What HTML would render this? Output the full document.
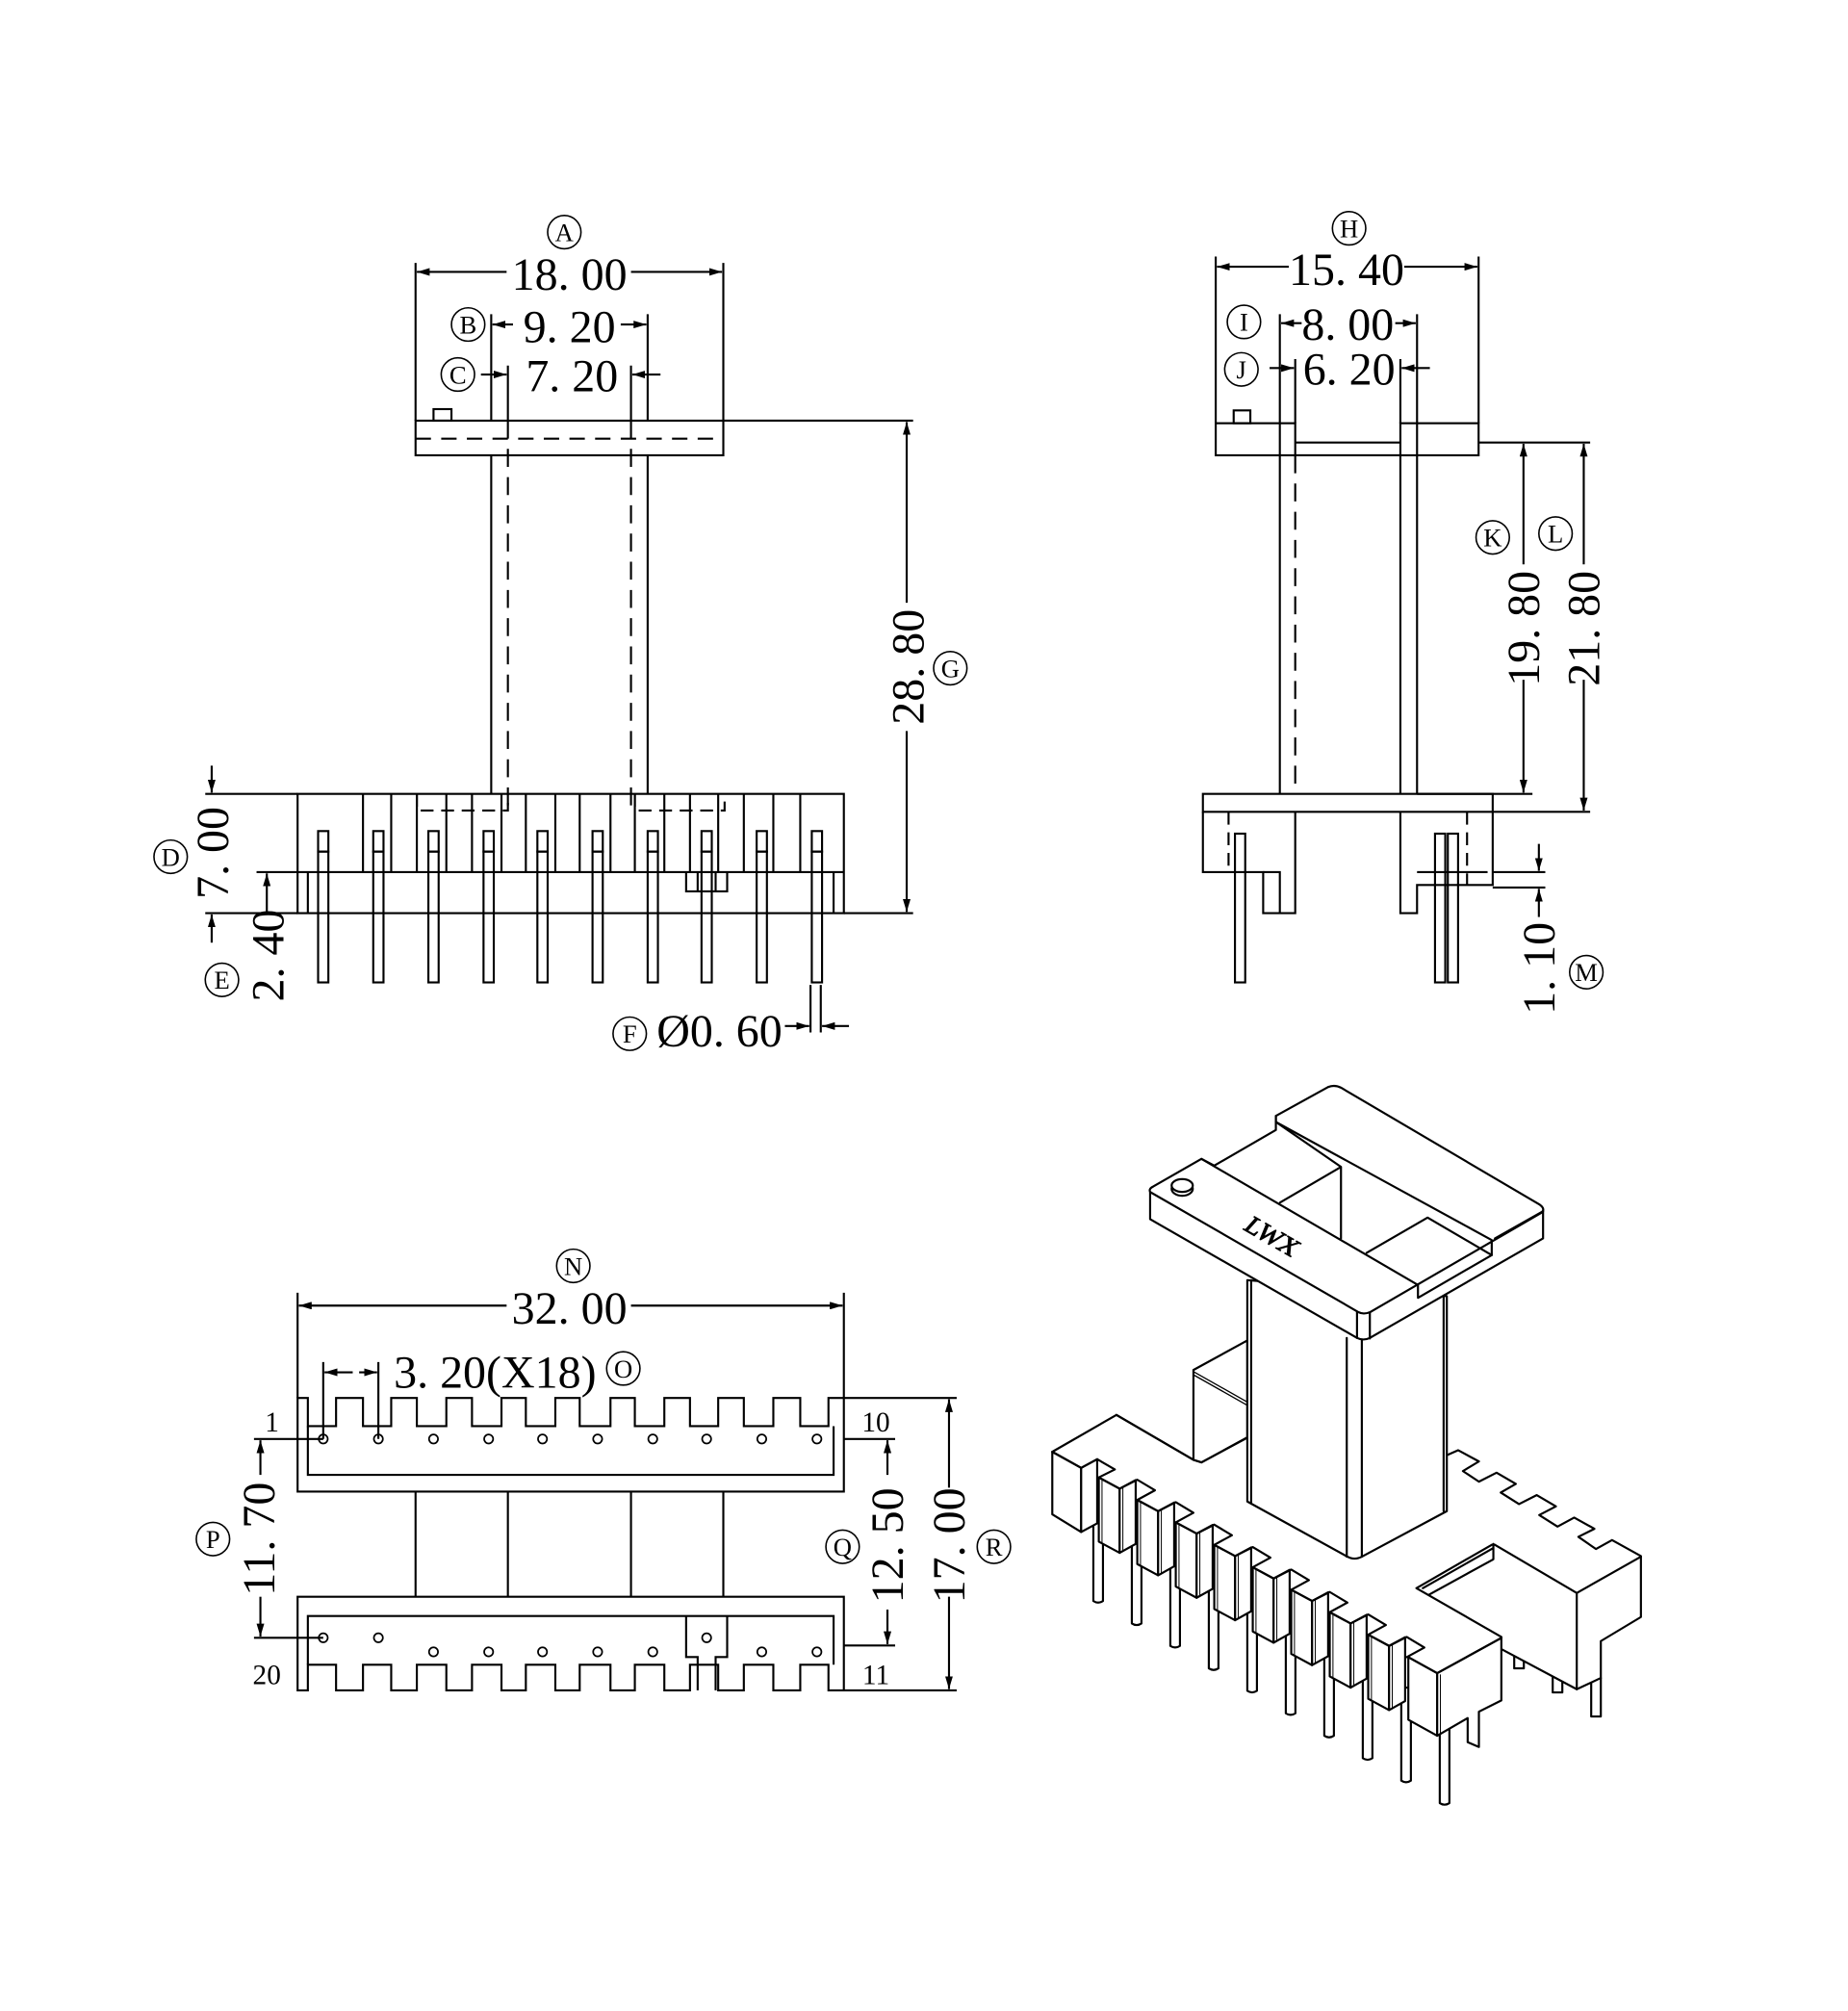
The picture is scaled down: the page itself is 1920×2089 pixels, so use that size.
<!DOCTYPE html>
<html><head><meta charset="utf-8"><style>
html,body{margin:0;padding:0;background:#fff}
svg{display:block}
text{font-family:"Liberation Serif",serif;fill:#000}
.t{font-size:36px}
.c{font-size:20px}
</style></head><body>
<svg width="1920" height="2089" viewBox="0 0 1441 1568" xmlns="http://www.w3.org/2000/svg">
<defs>
<marker id="a" viewBox="0 0 10 6" refX="10" refY="3" markerWidth="10" markerHeight="6" orient="auto-start-reverse" markerUnits="userSpaceOnUse"><path d="M0,0L10,3L0,6z" fill="#000"/></marker>
</defs>
<g fill="none" stroke="#000" stroke-width="1.6">
<!-- FRONT VIEW -->
<rect x="324" y="328" width="240" height="27"/>
<rect x="338" y="319" width="14" height="9"/>
<line x1="324" y1="342" x2="564" y2="342" stroke-dasharray="12,8"/>
<line x1="383" y1="355" x2="383" y2="619"/><line x1="505" y1="355" x2="505" y2="619"/>
<line x1="396" y1="328" x2="396" y2="630" stroke-dasharray="14,8"/><line x1="492" y1="328" x2="492" y2="630" stroke-dasharray="14,8"/>
<rect x="232" y="619" width="426" height="93"/>
<line x1="232" y1="680" x2="658" y2="680"/>
<path d="M283,619V680M305,619V680M325,619V680M348,619V680M368,619V680M391,619V680M410,619V680M433,619V680M452,619V680M476,619V680M495,619V680M518,619V680M538,619V680M560,619V680M580,619V680M603,619V680M624,619V680"/>
<path d="M325,619V632H396V619M495,619V632H565V619" stroke-dasharray="10,6"/>
<path d="M535,680V695H567V680M544,680V695M558,680V695"/>
<line x1="240" y1="680" x2="240" y2="712"/><line x1="650" y1="680" x2="650" y2="712"/>
<g id="pin"><rect x="248" y="648" width="8" height="16"/><rect x="248" y="664" width="8" height="102"/></g>
<use href="#pin" x="43"/><use href="#pin" x="86"/><use href="#pin" x="129"/><use href="#pin" x="171"/><use href="#pin" x="214"/><use href="#pin" x="257"/><use href="#pin" x="299"/><use href="#pin" x="342"/><use href="#pin" x="385"/>
<path d="M324,205V328M564,205V328M383,245V328M505,245V328M396,285V328M492,285V328"/>
<line x1="395" y1="212" x2="325" y2="212" marker-end="url(#a)"/><line x1="492" y1="212" x2="563" y2="212" marker-end="url(#a)"/>
<line x1="400" y1="253" x2="384" y2="253" marker-end="url(#a)"/><line x1="484" y1="253" x2="504" y2="253" marker-end="url(#a)"/>
<line x1="375" y1="292" x2="395" y2="292" marker-end="url(#a)"/><line x1="515" y1="292" x2="493" y2="292" marker-end="url(#a)"/>
<path d="M564,328H712M658,712H712"/>
<line x1="707" y1="470" x2="707" y2="329" marker-end="url(#a)"/><line x1="707" y1="570" x2="707" y2="711" marker-end="url(#a)"/>
<path d="M160,619H232M160,712H232M200,680H232"/>
<line x1="165" y1="597" x2="165" y2="618" marker-end="url(#a)"/><line x1="165" y1="735" x2="165" y2="713" marker-end="url(#a)"/>
<line x1="208" y1="712" x2="208" y2="681" marker-end="url(#a)"/>
<path d="M632,768V805M640,768V805"/>
<line x1="612" y1="800" x2="631" y2="800" marker-end="url(#a)"/><line x1="662" y1="800" x2="641" y2="800" marker-end="url(#a)"/>

<!-- SIDE VIEW -->
<rect x="948" y="330" width="62" height="25"/><rect x="1092" y="330" width="61" height="25"/>
<rect x="962" y="320" width="13" height="10"/>
<path d="M1010,345H1092M1010,355H1092"/>
<line x1="998" y1="330" x2="998" y2="619"/><line x1="1105" y1="330" x2="1105" y2="619"/>
<line x1="1010" y1="355" x2="1010" y2="619" stroke-dasharray="14,8"/><line x1="1092" y1="355" x2="1092" y2="619"/>
<rect x="938" y="619" width="226" height="14"/>
<path d="M938,633V680H985V712H1010V633M1092,633V712H1105V690H1164V633"/>
<path d="M958,633V680M1144,633V690" stroke-dasharray="10,6"/>
<path d="M985,680H998V712M1105,680H1160"/>
<rect x="963" y="650" width="8" height="116"/><rect x="1119" y="650" width="8" height="116"/><rect x="1129" y="650" width="8" height="116"/>
<path d="M948,200V330M1153,200V330M998,245V330M1105,245V330M1010,280V330M1092,280V330"/>
<line x1="1005" y1="208" x2="949" y2="208" marker-end="url(#a)"/><line x1="1095" y1="208" x2="1152" y2="208" marker-end="url(#a)"/>
<line x1="1015" y1="252" x2="999" y2="252" marker-end="url(#a)"/><line x1="1088" y1="252" x2="1104" y2="252" marker-end="url(#a)"/>
<line x1="990" y1="287" x2="1009" y2="287" marker-end="url(#a)"/><line x1="1115" y1="287" x2="1093" y2="287" marker-end="url(#a)"/>
<path d="M1153,345H1240M1105,619H1195M1164,633H1240"/>
<line x1="1188" y1="440" x2="1188" y2="346" marker-end="url(#a)"/><line x1="1188" y1="530" x2="1188" y2="618" marker-end="url(#a)"/>
<line x1="1235" y1="440" x2="1235" y2="346" marker-end="url(#a)"/><line x1="1235" y1="530" x2="1235" y2="632" marker-end="url(#a)"/>
<path d="M1164,680H1205M1164,692H1205"/>
<line x1="1200" y1="658" x2="1200" y2="679" marker-end="url(#a)"/><line x1="1200" y1="715" x2="1200" y2="693" marker-end="url(#a)"/>

<!-- BOTTOM VIEW -->
<path d="M232,1090H240V1112H262V1090H283V1112H305V1090H325V1112H348V1090H368V1112H391V1090H410V1112H433V1090H452V1112H476V1090H495V1112H518V1090H538V1112H560V1090H580V1112H603V1090H624V1112H646V1090H658V1163H232Z"/>
<path d="M240,1112V1150H650V1112"/>
<path d="M232,1318H240V1298H262V1318H283V1298H305V1318H325V1298H348V1318H368V1298H391V1318H410V1298H433V1318H452V1298H476V1318H495V1298H518V1318H538V1298H560V1318H580V1298H603V1318H624V1298H646V1318H658V1245H232Z"/>
<path d="M240,1298V1260H650V1298M535,1260V1292H544V1318M567,1260V1292H558V1318"/>
<path d="M324,1163V1245M396,1163V1245M492,1163V1245M564,1163V1245"/>
<g stroke-width="1.3">
<circle cx="252" cy="1122" r="3.5"/><circle cx="295" cy="1122" r="3.5"/><circle cx="338" cy="1122" r="3.5"/><circle cx="381" cy="1122" r="3.5"/><circle cx="423" cy="1122" r="3.5"/><circle cx="466" cy="1122" r="3.5"/><circle cx="509" cy="1122" r="3.5"/><circle cx="551" cy="1122" r="3.5"/><circle cx="594" cy="1122" r="3.5"/><circle cx="637" cy="1122" r="3.5"/>
<circle cx="252" cy="1277" r="3.5"/><circle cx="295" cy="1277" r="3.5"/><circle cx="338" cy="1288" r="3.5"/><circle cx="381" cy="1288" r="3.5"/><circle cx="423" cy="1288" r="3.5"/><circle cx="466" cy="1288" r="3.5"/><circle cx="509" cy="1288" r="3.5"/><circle cx="551" cy="1277" r="3.5"/><circle cx="594" cy="1288" r="3.5"/><circle cx="637" cy="1288" r="3.5"/>
</g>
<path d="M232,1008V1090M658,1008V1090M252,1062V1122M295,1062V1122"/>
<line x1="395" y1="1018" x2="233" y2="1018" marker-end="url(#a)"/><line x1="492" y1="1018" x2="657" y2="1018" marker-end="url(#a)"/>
<line x1="275" y1="1070" x2="253" y2="1070" marker-end="url(#a)"/><line x1="280" y1="1070" x2="294" y2="1070" marker-end="url(#a)"/>
<path d="M198,1122H252M198,1277H252M658,1122H698M658,1283H698M658,1090H746M658,1318H746"/>
<line x1="203" y1="1150" x2="203" y2="1123" marker-end="url(#a)"/><line x1="203" y1="1245" x2="203" y2="1276" marker-end="url(#a)"/>
<line x1="692" y1="1150" x2="692" y2="1123" marker-end="url(#a)"/><line x1="692" y1="1255" x2="692" y2="1282" marker-end="url(#a)"/>
<line x1="740" y1="1160" x2="740" y2="1091" marker-end="url(#a)"/><line x1="740" y1="1245" x2="740" y2="1317" marker-end="url(#a)"/>
</g>

<!-- ISOMETRIC -->
<g transform="scale(0.7505)" stroke="#000" stroke-width="6.5" stroke-linejoin="round" stroke-linecap="round" fill="#fff">
 <!-- zoom A: left base, pins, blocks -->
 <g transform="translate(1060,1400) scale(0.3333)">
  <path d="M100,325L300,210L540,350L565,358L710,280V480L1020,650L1235,745L1500,905L1210,965L300,440Z" stroke="none"/>
  <path d="M100,325L300,210L540,350L565,358L710,280" fill="none"/>
  <g id="ipin"><path d="M228,500V790Q243,800 258,790V500Z"/></g>
  <use href="#ipin" x="120" y="70"/><use href="#ipin" x="240" y="140"/><use href="#ipin" x="360" y="210"/><use href="#ipin" x="480" y="280"/><use href="#ipin" x="600" y="350"/><use href="#ipin" x="720" y="420"/><use href="#ipin" x="840" y="490"/><use href="#ipin" x="960" y="560"/><use href="#ipin" x="1080" y="630"/>
  <path d="M100,325L190,375V575L100,520Z"/>
  <path d="M190,375L240,348V548L190,575Z"/>
  <path d="M100,325L190,375L240,348L295,380L245,405" fill="none"/>
  <g id="blk">
   <path d="M245,405L310,440V640L245,605Z"/>
   <path d="M310,440L360,413V612L310,640Z"/>
   <path d="M245,405L310,440L365,412L420,445L365,475" fill="none"/>
   <path d="M255,410V610M320,437V636" fill="none" stroke-width="3"/>
  </g>
  <use href="#blk" x="120" y="70"/><use href="#blk" x="240" y="140"/><use href="#blk" x="360" y="210"/><use href="#blk" x="480" y="280"/><use href="#blk" x="600" y="350"/><use href="#blk" x="720" y="420"/><use href="#blk" x="840" y="490"/>
 </g>
 <!-- zoom C: right base -->
 <g transform="translate(1400,1450) scale(0.3333)">
  <path d="M520,790V850H550V800Z M640,860V925H670V870Z M760,880V1000H790V880Z"/>
  <path d="M300,190L345,170L410,205L360,235L410,268L465,240L525,275L478,302L535,338L590,310L650,345L598,372L655,408L707,380L770,415L720,440L775,478L825,450L915,500V690L790,765V880L715,915L480,790V752L215,600L455,462L715,615L300,400Z" stroke="none"/>
  <path d="M300,190L345,170L410,205L360,235L410,268L465,240L525,275L478,302L535,338L590,310L650,345L598,372L655,408L707,380L770,415L720,440L775,478L825,450L915,500V690L790,765V880L715,915L480,790" fill="none"/>
  <path d="M715,615V915M715,615L915,502M715,615L455,462L215,600L480,752M255,620L455,510V462M235,600L455,475" fill="none"/>
 </g>
 <!-- zoom A: last big block (over right base) -->
 <g transform="translate(1060,1400) scale(0.3333)">
  <path d="M1210,965L1300,1015V1210L1210,1160Z"/>
  <path d="M1300,1015L1500,905V1100L1430,1135V1245L1395,1230V1155L1300,1210Z"/>
  <path d="M1210,965L1300,1015L1500,905" fill="none"/>
  <path d="M1310,1020V1205" fill="none" stroke-width="3"/>
 </g>
 <!-- zoom B: post, core, flange -->
 <g transform="translate(1160,1100) scale(0.3333)">
  <path d="M240,970L408,878V1180L265,1258L240,1250Z"/>
  <path d="M240,975L408,1070M240,985L408,1080" fill="none" stroke-width="4"/>
  <path d="M0,1110L240,1250" fill="none"/>
  <path d="M408,690V1380L720,1552Q742,1564 765,1552L1030,1410V740Z"/>
  <path d="M420,690V1385M718,870V1552M765,870V1552M1020,740V1410" fill="none"/>
  <path d="M105,415V500L750,870Q770,880 790,870L1330,560V470L790,790L760,790Z"/>
  <path d="M750,790V870M790,790V872" fill="none"/>
  <path d="M105,415Q100,405 115,398L265,312L305,333L497,222V178L660,88Q680,80 700,90L1320,455Q1338,468 1325,480L790,790Q770,798 755,790Z"/>
  <path d="M497,178V197L1170,565V612L940,745V705L265,312" fill="none"/>
  <path d="M497,197L700,337V560M700,337L510,448M780,605L970,495L1170,612" fill="none"/>
  <path d="M1180,560L1330,475" fill="none"/>
  <ellipse cx="205" cy="405" rx="33" ry="22"/>
  <ellipse cx="205" cy="395" rx="33" ry="20"/>
  <text x="0" y="0" font-size="80" font-family="Liberation Sans, sans-serif" stroke="#000" stroke-width="3" fill="#fff" transform="translate(392,530) rotate(30) skewX(-12)">LWX</text>
 </g>
</g>

<!-- circled letters -->
<g fill="none" stroke="#000" stroke-width="1.2">
<circle cx="440" cy="181" r="13"/><circle cx="365" cy="253" r="13"/><circle cx="357" cy="292" r="13"/><circle cx="741" cy="521" r="13"/><circle cx="133" cy="668" r="13"/><circle cx="173" cy="764" r="13"/><circle cx="491" cy="806" r="13"/>
<circle cx="1052" cy="178" r="13"/><circle cx="970" cy="251" r="13"/><circle cx="968" cy="288" r="13"/><circle cx="1164" cy="419" r="13"/><circle cx="1213" cy="416" r="13"/><circle cx="1237" cy="758" r="13"/>
<circle cx="447" cy="987" r="13"/><circle cx="486" cy="1067" r="13"/><circle cx="166" cy="1200" r="13"/><circle cx="657" cy="1206" r="13"/><circle cx="775" cy="1206" r="13"/>
</g>
<g class="c" text-anchor="middle">
<text x="440" y="188">A</text><text x="365" y="260">B</text><text x="357" y="299">C</text><text x="741" y="528">G</text><text x="133" y="675">D</text><text x="173" y="771">E</text><text x="491" y="813">F</text>
<text x="1052" y="185">H</text><text x="970" y="258">I</text><text x="968" y="295">J</text><text x="1164" y="426">K</text><text x="1213" y="423">L</text><text x="1237" y="765">M</text>
<text x="447" y="994">N</text><text x="486" y="1074">O</text><text x="166" y="1207">P</text><text x="657" y="1213">Q</text><text x="775" y="1213">R</text>
</g>
<g class="t" text-anchor="middle">
<text x="444" y="226">18. 00</text><text x="444" y="267">9. 20</text><text x="446" y="305">7. 20</text>
<text x="1050" y="222">15. 40</text><text x="1051" y="265">8. 00</text><text x="1052" y="300">6. 20</text>
<text x="444" y="1032">32. 00</text><text x="386" y="1082">3. 20(X18)</text>
<text x="561" y="816">Ø0. 60</text>
<text transform="translate(720,520) rotate(-90)">28. 80</text>
<text transform="translate(178,665) rotate(-90)">7. 00</text>
<text transform="translate(221,745) rotate(-90)">2. 40</text>
<text transform="translate(1200,490) rotate(-90)">19. 80</text>
<text transform="translate(1247,490) rotate(-90)">21. 80</text>
<text transform="translate(1212,755) rotate(-90)">1. 10</text>
<text transform="translate(214,1200) rotate(-90)">11. 70</text>
<text transform="translate(704,1205) rotate(-90)">12. 50</text>
<text transform="translate(752,1205) rotate(-90)">17. 00</text>
</g>
<g font-size="22" text-anchor="middle">
<text x="212" y="1116">1</text><text x="683" y="1116">10</text><text x="208" y="1313">20</text><text x="683" y="1313">11</text>
</g>
</svg>
</body></html>
